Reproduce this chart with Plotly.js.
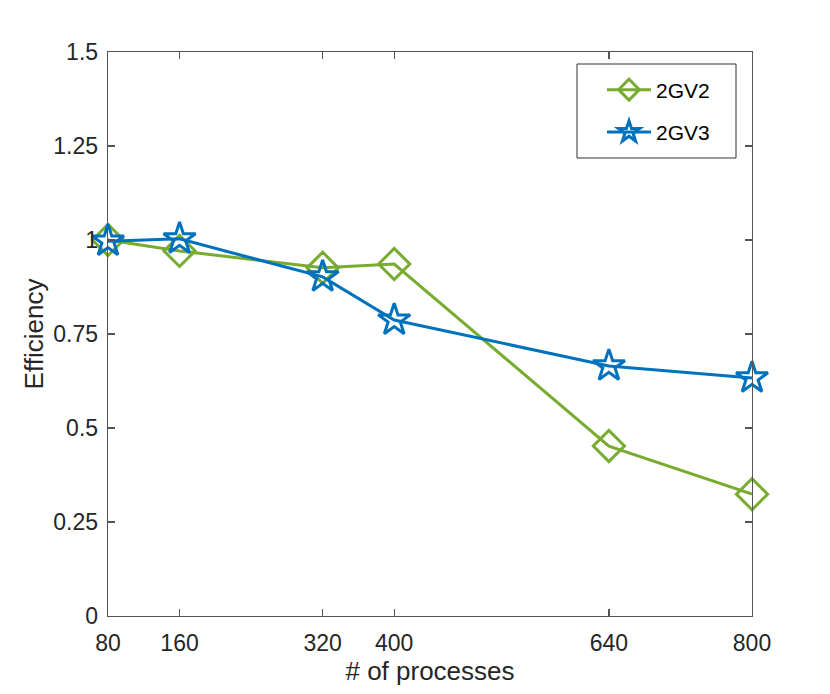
<!DOCTYPE html>
<html>
<head>
<meta charset="utf-8">
<script src="https://cdn.plot.ly/plotly-3.0.1.min.js"></script>
<style>html,body{margin:0;padding:0;background:#fff;}#chart{width:830px;height:694px;}</style>
</head>
<body>
<div id="chart"></div>
<script>
const processes = [80, 160, 320, 400, 640, 800];
const eff2GV2 = [1.0, 0.971, 0.926, 0.936, 0.452, 0.324];
const eff2GV3 = [0.997, 1.003, 0.902, 0.787, 0.665, 0.633];
const xTicks = [80, 160, 320, 400, 640, 800];
const yTicks = [0, 0.25, 0.5, 0.75, 1, 1.25, 1.5];
const yTickText = ['0', '0.25', '0.5', '0.75', '1', '1.25', '1.5'];

const FAM = 'Liberation Sans';
const font = {family: FAM, size: 23, color: '#262626'};

const traces = [
  {x: processes, y: eff2GV2, name: '2GV2', mode: 'lines+markers', legendgroup: 'a', cliponaxis: false,
   line: {color: '#77AC30', width: 3},
   marker: {symbol: 'diamond-open', size: 24, color: '#77AC30', line: {width: 3, color: '#77AC30'}}},
  {x: processes, y: eff2GV3, name: '2GV3', mode: 'lines+markers', legendgroup: 'b', cliponaxis: false,
   line: {color: '#0072BD', width: 3},
   marker: {symbol: 'star-open', size: 24, color: '#0072BD', line: {width: 3, color: '#0072BD'}}}
];

const axisCommon = {
  showgrid: false, zeroline: false, showline: true, mirror: 'ticks',
  linecolor: '#555', linewidth: 1.3, ticks: 'inside', ticklen: 7, tickcolor: '#555', tickwidth: 1.3,
  tickfont: font
};

const layout = {
  width: 830, height: 694,
  margin: {l: 108, r: 78, t: 52, b: 78},
  paper_bgcolor: '#fff', plot_bgcolor: '#fff',
  font: font,
  showlegend: true,
  legend: {x: (602-108)/644, y: 0.969, xanchor: 'left', yanchor: 'top',
           borderwidth: 0, bgcolor: 'rgba(0,0,0,0)',
           font: {family: FAM, size: 21, color: '#000'},
           traceorder: 'grouped', tracegroupgap: 12, itemwidth: 44},
  shapes: [{type: 'rect', xref: 'paper', yref: 'paper',
            x0: (577-108)/644, x1: (736-108)/644, y0: (616-158)/564, y1: (616-64)/564,
            line: {color: '#333', width: 1}, fillcolor: 'rgba(255,255,255,1)', layer: 'below'}],
  xaxis: Object.assign({}, axisCommon, {
    range: [80, 800], tickmode: 'array', tickvals: xTicks, ticktext: xTicks.map(String),
    ticklabelstandoff: 6,
    title: {text: '# of processes', font: {family: FAM, size: 26, color: '#262626'}, standoff: 4}
  }),
  yaxis: Object.assign({}, axisCommon, {
    range: [0, 1.5], tickmode: 'array', tickvals: yTicks, ticktext: yTickText,
    ticklabelstandoff: 4,
    title: {text: 'Efficiency', font: {family: FAM, size: 26, color: '#262626'}, standoff: 2}
  })
};

Plotly.newPlot('chart', traces, layout, {displayModeBar: false, staticPlot: true});
</script>
</body>
</html>
